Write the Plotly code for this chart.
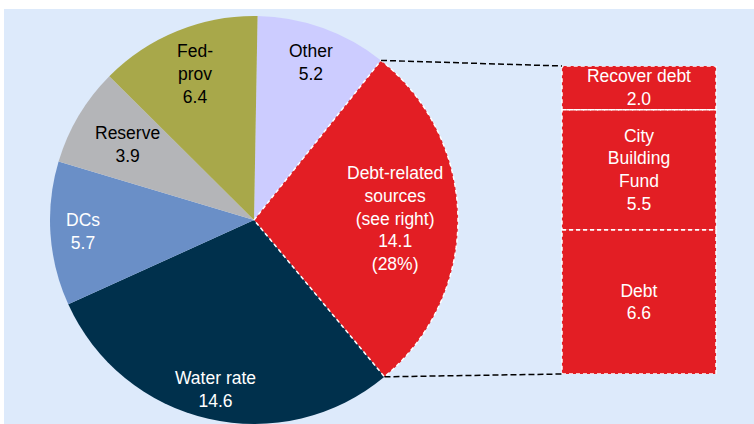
import math
import plotly.graph_objects as go

# Funding sources shown in the pie (clockwise from 12 o'clock)
source_labels = ["Other", "Debt-related<br>sources<br>(see right)", "Water rate", "DCs", "Reserve", "Fed-<br>prov"]
source_values = [5.2, 14.1, 14.6, 5.7, 3.9, 6.4]
source_colors = ["#CCCCFF", "#E31E24", "#00304C", "#6A8FC7", "#B4B5B8", "#A8A84A"]
source_text_colors = ["black", "white", "white", "white", "black", "black"]

# Breakdown of the debt-related slice (stacked bar, bottom to top)
debt_labels = ["Debt", "City<br>Building<br>Fund", "Recover debt"]
debt_values = [6.6, 5.5, 2.0]

DEBT_INDEX = 1
FONT = "Liberation Sans, Arial, sans-serif"
FONT_SIZE = 17.5
W, H = 754, 424

# Pie geometry (pixels)
CX, CY, R = 254, 220, 204
ROT = 1.0
LABEL_R = [0.82, 0.69, 0.85, 0.84, 0.72, 0.77]

# Bar geometry (pixels)
BAR_LEFT, BAR_RIGHT = 562, 716
BAR_TOP, BAR_BOTTOM = 66, 374
RED = "#E31E24"
PANEL = "#DDEAFB"

total = sum(source_values)


def angle_at(cum):
    return ROT + 360.0 * cum / total


def pt(angle_deg, radius):
    a = math.radians(angle_deg)
    return CX + radius * math.sin(a), CY - radius * math.cos(a)


fig = go.Figure()

fig.add_trace(go.Pie(
    values=source_values,
    labels=[l.replace("<br>", " ") for l in source_labels],
    marker=dict(colors=source_colors, line=dict(width=0)),
    sort=False,
    direction="clockwise",
    rotation=ROT,
    textinfo="none",
    hoverinfo="label+value",
    showlegend=False,
    domain=dict(x=[(CX - R) / W, (CX + R) / W], y=[(H - CY - R) / H, (H - CY + R) / H]),
))

# Stacked breakdown bar
bases = []
acc = 0.0
for v in debt_values:
    bases.append(acc)
    acc += v
bar_total = acc

fig.add_trace(go.Bar(
    x=[(BAR_LEFT + BAR_RIGHT) / 2] * len(debt_values),
    y=debt_values,
    base=bases,
    width=BAR_RIGHT - BAR_LEFT,
    yaxis="y2",
    marker=dict(color=RED, line=dict(width=0)),
    text=[f"{l}<br>{v:.1f}" for l, v in zip(debt_labels, debt_values)],
    textposition="inside",
    insidetextanchor="middle",
    textangle=0,
    constraintext="none",
    textfont=dict(family=FONT, size=FONT_SIZE, color="white"),
    hoverinfo="skip",
    showlegend=False,
))

shapes = []
# light blue panel
shapes.append(dict(type="rect", xref="paper", yref="paper", x0=4 / W, x1=1, y0=0, y1=(H - 9) / H,
                   fillcolor=PANEL, line=dict(width=0), layer="below"))

# dashed outline of the debt-related slice
cum0 = sum(source_values[:DEBT_INDEX])
cum1 = cum0 + source_values[DEBT_INDEX]
a0, a1 = angle_at(cum0), angle_at(cum1)
n = 60
arc = [pt(a0 + (a1 - a0) * k / n, R) for k in range(n + 1)]
path = f"M {CX},{CY} " + " ".join(f"L {x:.2f},{y:.2f}" for x, y in arc) + " Z"
shapes.append(dict(type="path", xref="x", yref="y", path=path,
                   line=dict(color="white", width=1.5, dash="4px,3px"), layer="above"))

# dashed outlines of bar segments
for b, v in zip(bases, debt_values):
    shapes.append(dict(type="rect", xref="x", yref="y2", x0=BAR_LEFT, x1=BAR_RIGHT, y0=b, y1=b + v,
                       line=dict(color="white", width=1.5, dash="4px,3px"), layer="above"))

# connectors from slice edges to bar corners
p0 = pt(a0, R)
p1 = pt(a1, R)
for (px, py), by in ((p0, BAR_TOP), (p1, BAR_BOTTOM)):
    shapes.append(dict(type="line", xref="x", yref="y", x0=px, y0=py, x1=BAR_LEFT, y1=by,
                       line=dict(color="black", width=1.5, dash="6px,3px"), layer="above"))

# slice labels
annotations = []
cum = 0.0
for i, (lab, v) in enumerate(zip(source_labels, source_values)):
    mid = angle_at(cum + v / 2)
    cum += v
    x, y = pt(mid, LABEL_R[i] * R)
    txt = f"{lab}<br>{v:.1f}"
    if i == DEBT_INDEX:
        txt += f"<br>({round(100 * v / total)}%)"
    annotations.append(dict(x=x, y=y, xref="x", yref="y", text=txt, showarrow=False,
                            font=dict(family=FONT, size=FONT_SIZE, color=source_text_colors[i]),
                            xanchor="center", yanchor="middle", align="center"))

fig.update_layout(
    width=W, height=H,
    margin=dict(l=0, r=0, t=0, b=0),
    paper_bgcolor="white",
    plot_bgcolor="rgba(0,0,0,0)",
    font=dict(family=FONT, size=FONT_SIZE),
    xaxis=dict(range=[0, W], domain=[0, 1], visible=False, fixedrange=True),
    yaxis=dict(range=[H, 0], domain=[0, 1], visible=False, fixedrange=True),
    yaxis2=dict(range=[0, bar_total], domain=[(H - BAR_BOTTOM) / H, (H - BAR_TOP) / H],
                anchor="x", visible=False, fixedrange=True),
    shapes=shapes,
    annotations=annotations,
    showlegend=False,
)

fig.write_html("out.html")
